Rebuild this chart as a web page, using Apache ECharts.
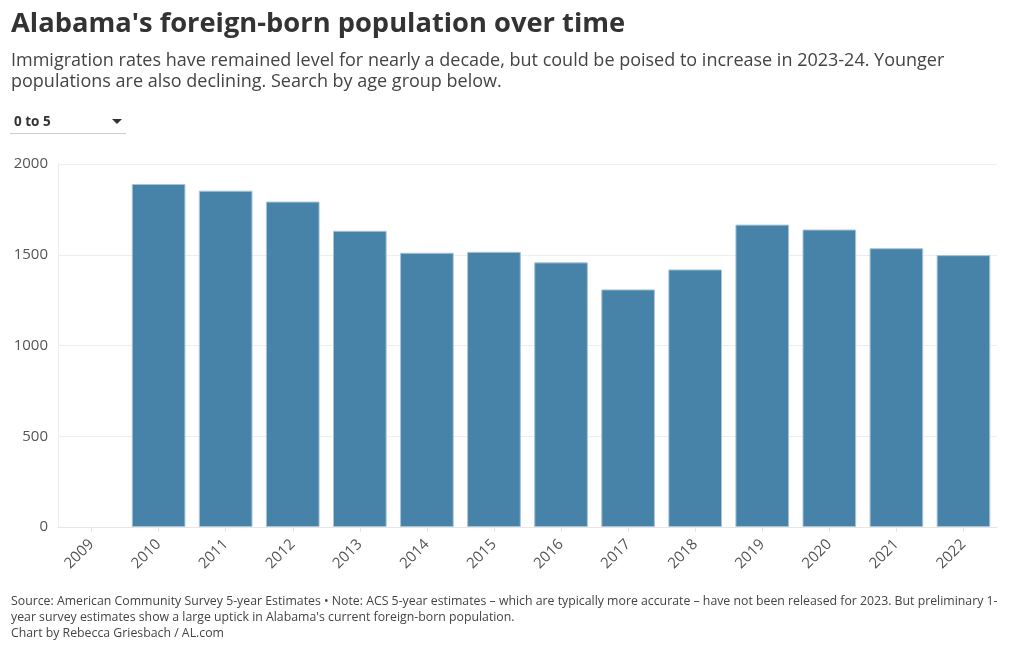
<!DOCTYPE html>
<html><head><meta charset="utf-8">
<script src="https://cdn.jsdelivr.net/npm/echarts@6/dist/echarts.min.js"></script>
<style>html,body{margin:0;padding:0;background:#fff}#c{width:1020px;height:650px}</style>
</head><body><div id="c"></div>
<script>
const years = ['2009','2010','2011','2012','2013','2014','2015','2016','2017','2018','2019','2020','2021','2022'];
const population = [null,1890,1853,1793,1632,1511,1516,1458,1309,1419,1666,1639,1536,1498];
const yTicks = [0,500,1000,1500,2000];
const titleText = "Alabama's foreign-born population over time";
const subtitleLines = ["Immigration rates have remained level for nearly a decade, but could be poised to increase in 2023-24. Younger","populations are also declining. Search by age group below."];
const footerLines = ["Source: American Community Survey 5-year Estimates • Note: ACS 5-year estimates – which are typically more accurate – have not been released for 2023. But preliminary 1-","year survey estimates show a large uptick in Alabama's current foreign-born population.","Chart by Rebecca Griesbach / AL.com"];
const dropdownLabel = "0 to 5";

const FF = "'Source Sans Pro','Open Sans','Noto Sans',sans-serif";
const chart = echarts.init(document.getElementById('c'));
const graphics = [
  {type:'text',left:11,top:11,style:{text:titleText,font:"bold 27.3px "+FF,fill:'#333'}},
  {type:'text',left:11,top:52,style:{text:subtitleLines[0],font:"18px "+FF,fill:'#444'}},
  {type:'text',left:11,top:73,style:{text:subtitleLines[1],font:"18px "+FF,fill:'#444'}},
  {type:'text',left:14,top:115,style:{text:dropdownLabel,font:"bold 13.5px "+FF,fill:'#333'}},
  {type:'polygon',shape:{points:[[112,119],[122,119],[117,124]]},style:{fill:'#333'}},
  {type:'line',shape:{x1:10,y1:133.5,x2:126,y2:133.5},style:{stroke:'#ccc',lineWidth:1}},
  {type:'text',left:11,top:595,style:{text:footerLines[0],font:"12.3px "+FF,fill:'#444'}},
  {type:'text',left:11,top:611,style:{text:footerLines[1],font:"12.3px "+FF,fill:'#444'}},
  {type:'text',left:11,top:627,style:{text:footerLines[2],font:"12.3px "+FF,fill:'#444'}}
];
chart.setOption({
  animation:false,
  graphic:graphics,
  grid:{left:58,right:23,top:164,bottom:123,containLabel:false},
  xAxis:{type:'category',data:years,
    axisLine:{show:true,lineStyle:{color:'#e6e6e6'}},
    axisTick:{show:true,alignWithLabel:true,length:5,lineStyle:{color:'#e6e6e6'}},
    axisLabel:{rotate:45,color:'#555',fontSize:15,fontFamily:FF,margin:15}},
  yAxis:{type:'value',min:0,max:2000,interval:500,
    axisLine:{show:true,lineStyle:{color:'#eee'}},
    axisTick:{show:false},
    splitLine:{lineStyle:{color:'#eee'}},
    axisLabel:{color:'#555',fontSize:15,fontFamily:FF,margin:10,
      formatter:v=>yTicks.includes(v)?String(v):''}},
  series:[{type:'bar',data:population,barCategoryGap:'20%',
    itemStyle:{color:'#4783a9',borderColor:'#a8c4d6',borderWidth:1}}]
});
</script></body></html>
